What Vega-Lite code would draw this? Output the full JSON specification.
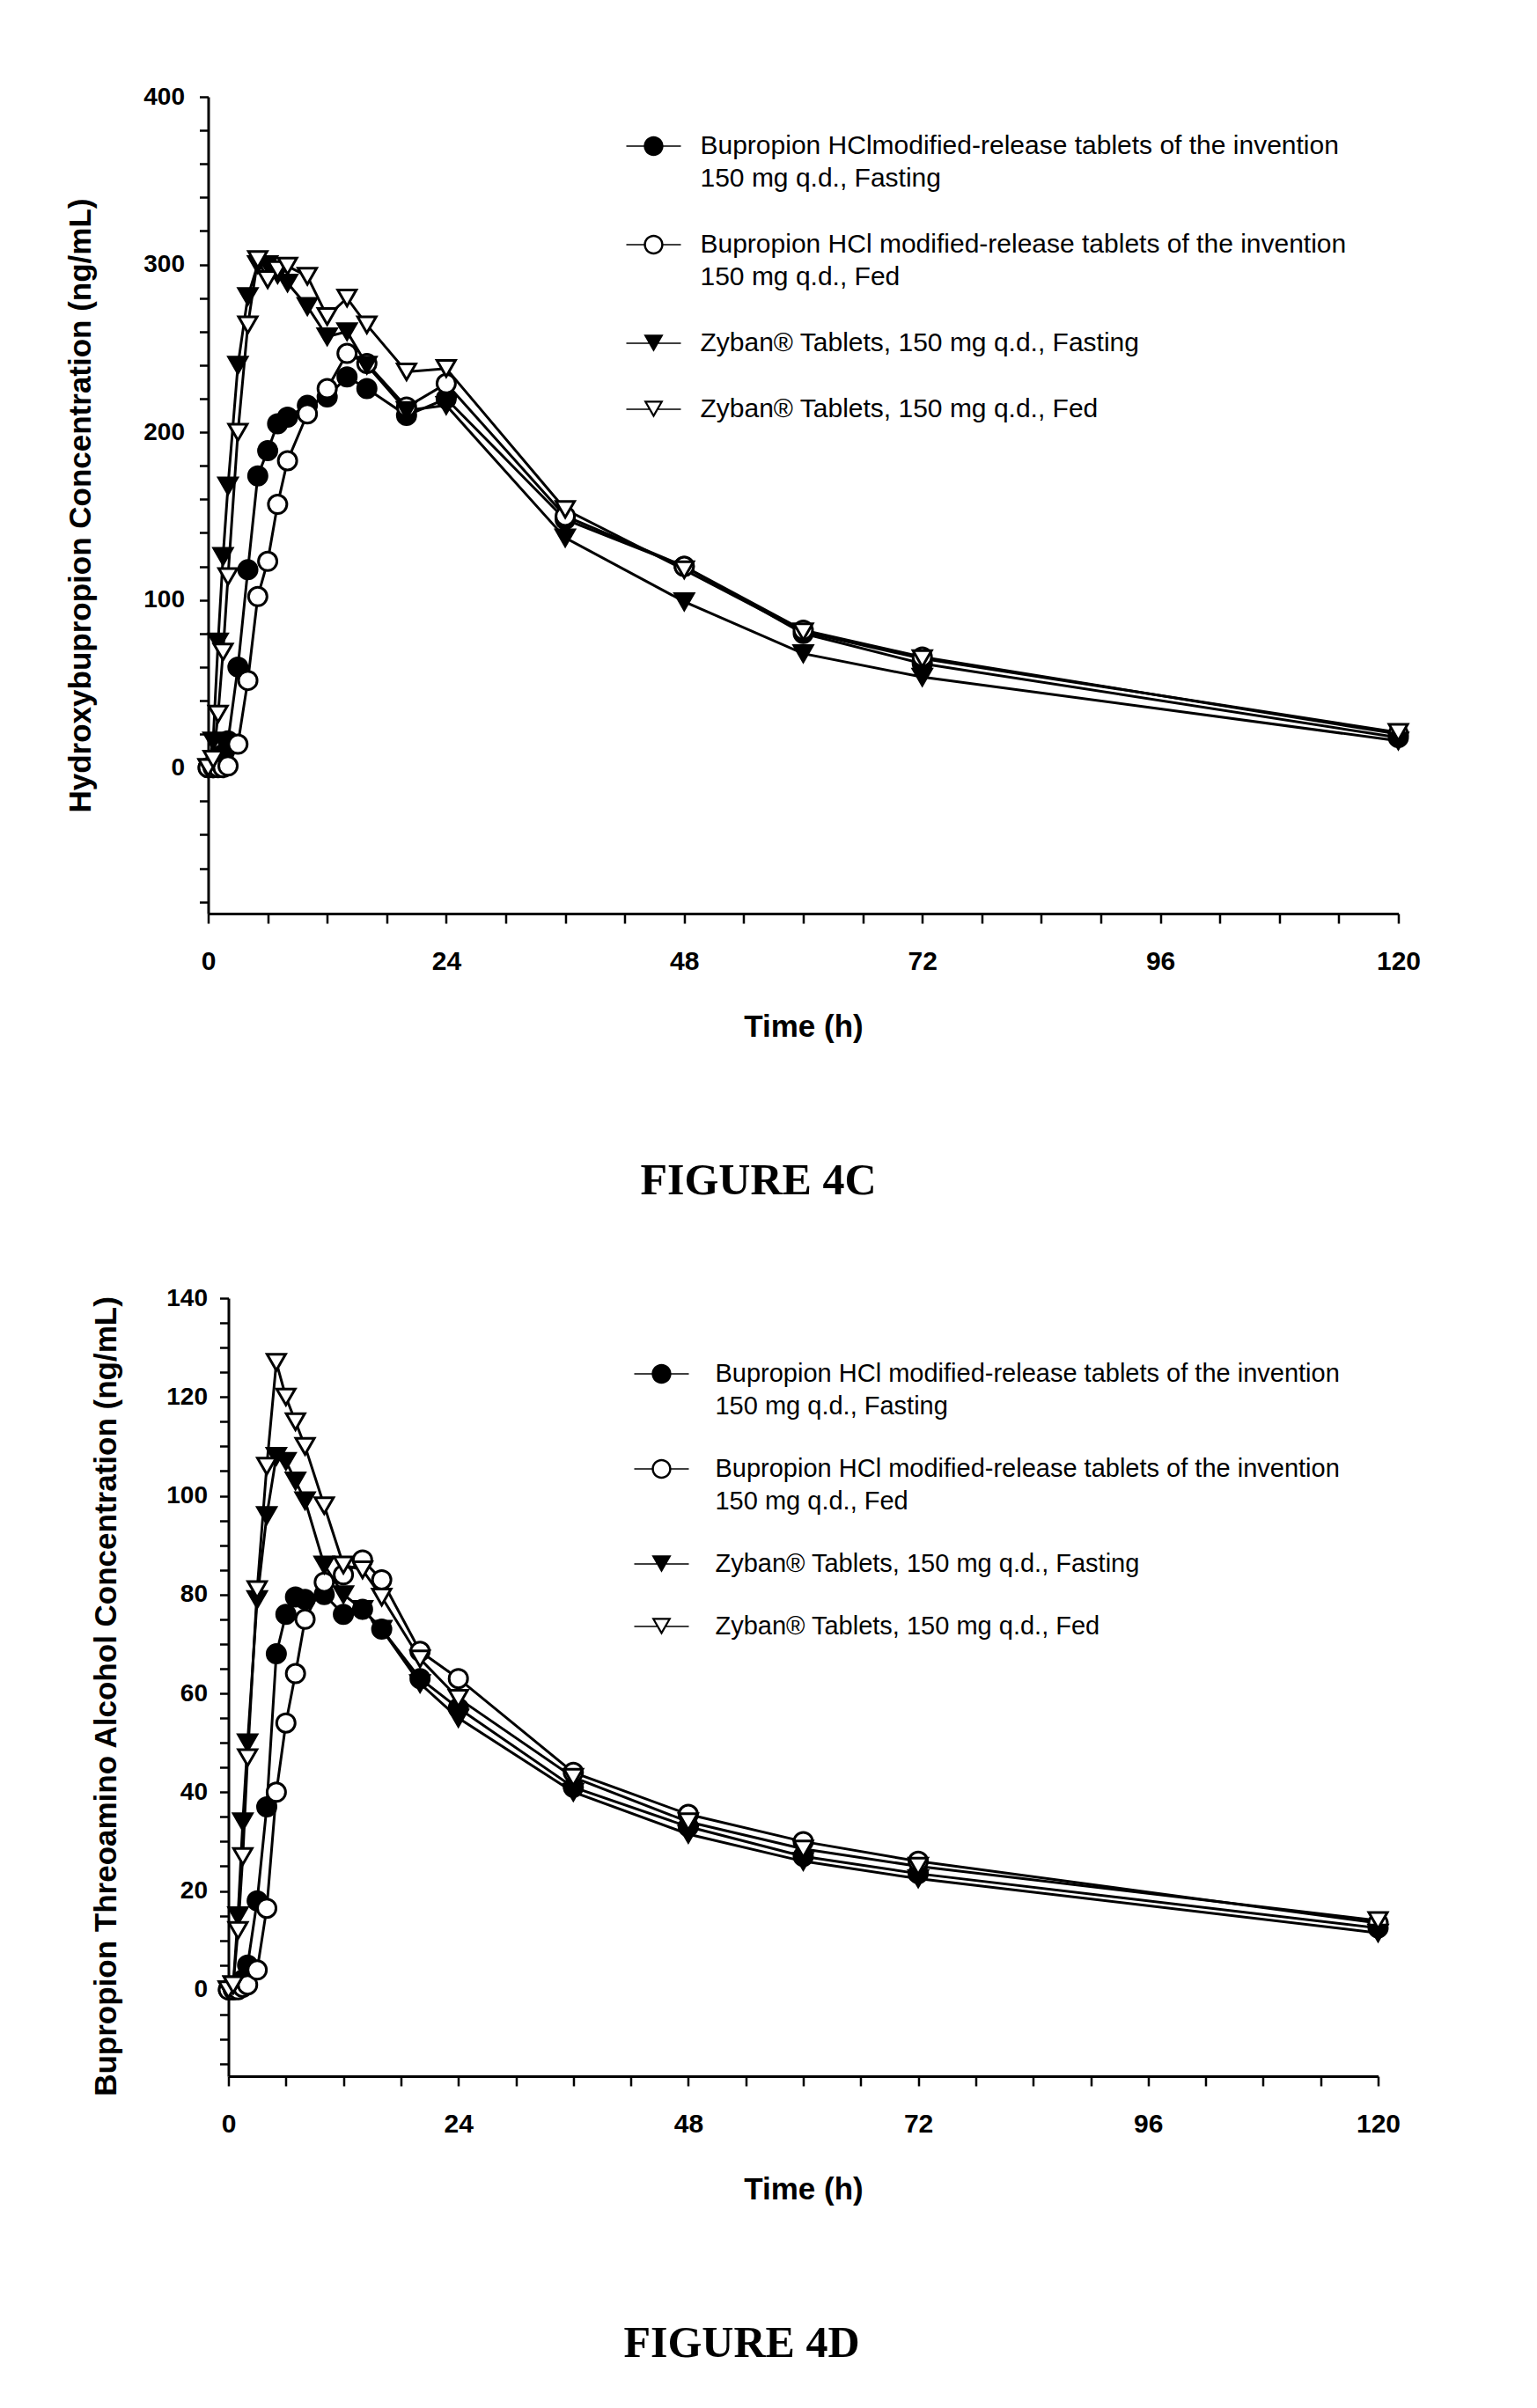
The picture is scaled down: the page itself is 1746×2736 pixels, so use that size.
{
  "$schema": "https://vega.github.io/schema/vega-lite/v6.json",
  "background": "white",
  "padding": {"left": 74, "top": 96, "right": 10, "bottom": 10},
  "spacing": 94,
  "center": true,
  "config": {
    "view": {"stroke": null},
    "font": "Liberation Sans",
    "axis": {"grid": false, "domainColor": "black", "domainWidth": 3, "tickColor": "black", "tickWidth": 2.5, "labelColor": "black", "titleColor": "black", "labelFont": "Liberation Sans", "titleFont": "Liberation Sans", "labelFontWeight": "bold", "titleFontWeight": "bold", "labelFlush": false, "labelOverlap": false},
    "style": {"guide-label": {"lineHeight": 37}}
  },
  "datasets": {
    "hydroxy": [
      {"time":0,"series":"Invention, Fasting","conc":0},{"time":0.5,"series":"Invention, Fasting","conc":0},{"time":1,"series":"Invention, Fasting","conc":3},{"time":1.5,"series":"Invention, Fasting","conc":8},{"time":2,"series":"Invention, Fasting","conc":16},{"time":3,"series":"Invention, Fasting","conc":60},{"time":4,"series":"Invention, Fasting","conc":118},{"time":5,"series":"Invention, Fasting","conc":174},{"time":6,"series":"Invention, Fasting","conc":189},{"time":7,"series":"Invention, Fasting","conc":205},{"time":8,"series":"Invention, Fasting","conc":209},{"time":10,"series":"Invention, Fasting","conc":216},{"time":12,"series":"Invention, Fasting","conc":221},{"time":14,"series":"Invention, Fasting","conc":233},{"time":16,"series":"Invention, Fasting","conc":226},{"time":20,"series":"Invention, Fasting","conc":210},{"time":24,"series":"Invention, Fasting","conc":220},{"time":36,"series":"Invention, Fasting","conc":148},{"time":48,"series":"Invention, Fasting","conc":120},{"time":60,"series":"Invention, Fasting","conc":80},{"time":72,"series":"Invention, Fasting","conc":62},{"time":120,"series":"Invention, Fasting","conc":18},
      {"time":0,"series":"Invention, Fed","conc":0},{"time":0.5,"series":"Invention, Fed","conc":0},{"time":1,"series":"Invention, Fed","conc":0},{"time":1.5,"series":"Invention, Fed","conc":0},{"time":2,"series":"Invention, Fed","conc":1},{"time":3,"series":"Invention, Fed","conc":14},{"time":4,"series":"Invention, Fed","conc":52},{"time":5,"series":"Invention, Fed","conc":102},{"time":6,"series":"Invention, Fed","conc":123},{"time":7,"series":"Invention, Fed","conc":157},{"time":8,"series":"Invention, Fed","conc":183},{"time":10,"series":"Invention, Fed","conc":211},{"time":12,"series":"Invention, Fed","conc":226},{"time":14,"series":"Invention, Fed","conc":247},{"time":16,"series":"Invention, Fed","conc":241},{"time":20,"series":"Invention, Fed","conc":215},{"time":24,"series":"Invention, Fed","conc":229},{"time":36,"series":"Invention, Fed","conc":150},{"time":48,"series":"Invention, Fed","conc":120},{"time":60,"series":"Invention, Fed","conc":82},{"time":72,"series":"Invention, Fed","conc":66},{"time":120,"series":"Invention, Fed","conc":20},
      {"time":0,"series":"Zyban, Fasting","conc":0},{"time":0.5,"series":"Zyban, Fasting","conc":16},{"time":1,"series":"Zyban, Fasting","conc":75},{"time":1.5,"series":"Zyban, Fasting","conc":126},{"time":2,"series":"Zyban, Fasting","conc":168},{"time":3,"series":"Zyban, Fasting","conc":240},{"time":4,"series":"Zyban, Fasting","conc":281},{"time":5,"series":"Zyban, Fasting","conc":300},{"time":6,"series":"Zyban, Fasting","conc":300},{"time":7,"series":"Zyban, Fasting","conc":294},{"time":8,"series":"Zyban, Fasting","conc":289},{"time":10,"series":"Zyban, Fasting","conc":275},{"time":12,"series":"Zyban, Fasting","conc":257},{"time":14,"series":"Zyban, Fasting","conc":260},{"time":16,"series":"Zyban, Fasting","conc":240},{"time":20,"series":"Zyban, Fasting","conc":213},{"time":24,"series":"Zyban, Fasting","conc":216},{"time":36,"series":"Zyban, Fasting","conc":137},{"time":48,"series":"Zyban, Fasting","conc":99},{"time":60,"series":"Zyban, Fasting","conc":68},{"time":72,"series":"Zyban, Fasting","conc":54},{"time":120,"series":"Zyban, Fasting","conc":16},
      {"time":0,"series":"Zyban, Fed","conc":0},{"time":0.5,"series":"Zyban, Fed","conc":5},{"time":1,"series":"Zyban, Fed","conc":32},{"time":1.5,"series":"Zyban, Fed","conc":69},{"time":2,"series":"Zyban, Fed","conc":114},{"time":3,"series":"Zyban, Fed","conc":200},{"time":4,"series":"Zyban, Fed","conc":264},{"time":5,"series":"Zyban, Fed","conc":303},{"time":6,"series":"Zyban, Fed","conc":291},{"time":7,"series":"Zyban, Fed","conc":297},{"time":8,"series":"Zyban, Fed","conc":299},{"time":10,"series":"Zyban, Fed","conc":293},{"time":12,"series":"Zyban, Fed","conc":269},{"time":14,"series":"Zyban, Fed","conc":280},{"time":16,"series":"Zyban, Fed","conc":264},{"time":20,"series":"Zyban, Fed","conc":236},{"time":24,"series":"Zyban, Fed","conc":238},{"time":36,"series":"Zyban, Fed","conc":154},{"time":48,"series":"Zyban, Fed","conc":118},{"time":60,"series":"Zyban, Fed","conc":81},{"time":72,"series":"Zyban, Fed","conc":65},{"time":120,"series":"Zyban, Fed","conc":21}
    ],
    "threo": [
      {"time":0,"series":"Invention, Fasting","conc":0},{"time":0.5,"series":"Invention, Fasting","conc":0},{"time":1,"series":"Invention, Fasting","conc":1},{"time":1.5,"series":"Invention, Fasting","conc":2},{"time":2,"series":"Invention, Fasting","conc":5},{"time":3,"series":"Invention, Fasting","conc":18},{"time":4,"series":"Invention, Fasting","conc":37},{"time":5,"series":"Invention, Fasting","conc":68},{"time":6,"series":"Invention, Fasting","conc":76},{"time":7,"series":"Invention, Fasting","conc":79.5},{"time":8,"series":"Invention, Fasting","conc":79},{"time":10,"series":"Invention, Fasting","conc":80},{"time":12,"series":"Invention, Fasting","conc":76},{"time":14,"series":"Invention, Fasting","conc":77},{"time":16,"series":"Invention, Fasting","conc":73},{"time":20,"series":"Invention, Fasting","conc":63},{"time":24,"series":"Invention, Fasting","conc":57},{"time":36,"series":"Invention, Fasting","conc":41},{"time":48,"series":"Invention, Fasting","conc":33},{"time":60,"series":"Invention, Fasting","conc":27},{"time":72,"series":"Invention, Fasting","conc":23.5},{"time":120,"series":"Invention, Fasting","conc":12.5},
      {"time":0,"series":"Invention, Fed","conc":0},{"time":0.5,"series":"Invention, Fed","conc":0},{"time":1,"series":"Invention, Fed","conc":0},{"time":1.5,"series":"Invention, Fed","conc":0.5},{"time":2,"series":"Invention, Fed","conc":1},{"time":3,"series":"Invention, Fed","conc":4},{"time":4,"series":"Invention, Fed","conc":16.5},{"time":5,"series":"Invention, Fed","conc":40},{"time":6,"series":"Invention, Fed","conc":54},{"time":7,"series":"Invention, Fed","conc":64},{"time":8,"series":"Invention, Fed","conc":75},{"time":10,"series":"Invention, Fed","conc":82.5},{"time":12,"series":"Invention, Fed","conc":84},{"time":14,"series":"Invention, Fed","conc":87},{"time":16,"series":"Invention, Fed","conc":83},{"time":20,"series":"Invention, Fed","conc":68.5},{"time":24,"series":"Invention, Fed","conc":63},{"time":36,"series":"Invention, Fed","conc":44},{"time":48,"series":"Invention, Fed","conc":35.5},{"time":60,"series":"Invention, Fed","conc":30},{"time":72,"series":"Invention, Fed","conc":26},{"time":120,"series":"Invention, Fed","conc":13.5},
      {"time":0,"series":"Zyban, Fasting","conc":0},{"time":0.5,"series":"Zyban, Fasting","conc":1},{"time":1,"series":"Zyban, Fasting","conc":15},{"time":1.5,"series":"Zyban, Fasting","conc":34},{"time":2,"series":"Zyban, Fasting","conc":50},{"time":3,"series":"Zyban, Fasting","conc":79},{"time":4,"series":"Zyban, Fasting","conc":96},{"time":5,"series":"Zyban, Fasting","conc":108},{"time":6,"series":"Zyban, Fasting","conc":107},{"time":7,"series":"Zyban, Fasting","conc":103},{"time":8,"series":"Zyban, Fasting","conc":99},{"time":10,"series":"Zyban, Fasting","conc":86},{"time":12,"series":"Zyban, Fasting","conc":80},{"time":14,"series":"Zyban, Fasting","conc":77},{"time":16,"series":"Zyban, Fasting","conc":73},{"time":20,"series":"Zyban, Fasting","conc":62},{"time":24,"series":"Zyban, Fasting","conc":55},{"time":36,"series":"Zyban, Fasting","conc":40},{"time":48,"series":"Zyban, Fasting","conc":31.5},{"time":60,"series":"Zyban, Fasting","conc":26},{"time":72,"series":"Zyban, Fasting","conc":22.5},{"time":120,"series":"Zyban, Fasting","conc":11.5},
      {"time":0,"series":"Zyban, Fed","conc":0},{"time":0.5,"series":"Zyban, Fed","conc":1},{"time":1,"series":"Zyban, Fed","conc":12},{"time":1.5,"series":"Zyban, Fed","conc":27},{"time":2,"series":"Zyban, Fed","conc":47},{"time":3,"series":"Zyban, Fed","conc":81},{"time":4,"series":"Zyban, Fed","conc":106},{"time":5,"series":"Zyban, Fed","conc":127},{"time":6,"series":"Zyban, Fed","conc":120},{"time":7,"series":"Zyban, Fed","conc":115},{"time":8,"series":"Zyban, Fed","conc":110},{"time":10,"series":"Zyban, Fed","conc":98},{"time":12,"series":"Zyban, Fed","conc":86},{"time":14,"series":"Zyban, Fed","conc":85},{"time":16,"series":"Zyban, Fed","conc":79.5},{"time":20,"series":"Zyban, Fed","conc":67},{"time":24,"series":"Zyban, Fed","conc":59},{"time":36,"series":"Zyban, Fed","conc":43},{"time":48,"series":"Zyban, Fed","conc":34},{"time":60,"series":"Zyban, Fed","conc":28.5},{"time":72,"series":"Zyban, Fed","conc":25},{"time":120,"series":"Zyban, Fed","conc":14}
    ]
  },
  "vconcat": [
    {
      "width": 1352,
      "height": 928,
      "data": {"name": "hydroxy"},
      "title": {"text": "FIGURE 4C", "orient": "bottom", "anchor": "middle", "frame": "group", "font": "Liberation Serif", "fontSize": 50, "fontWeight": "bold", "color": "black", "offset": 133, "dx": -51},
      "encoding": {
        "x": {"field": "time", "type": "quantitative", "scale": {"domain": [0, 120], "nice": false, "zero": false},
          "axis": {"title": "Time (h)", "values": [0,6,12,18,24,30,36,42,48,54,60,66,72,78,84,90,96,102,108,114,120], "labelExpr": "datum.value % 24 === 0 ? datum.label : ''", "tickSize": 11, "labelPadding": 28, "titlePadding": 42, "labelFontSize": 30, "titleFontSize": 35}},
        "y": {"field": "conc", "type": "quantitative", "scale": {"domain": [-87, 400], "nice": false, "zero": false},
          "axis": {"title": "Hydroxybupropion Concentration (ng/mL)", "values": [-80,-60,-40,-20,0,20,40,60,80,100,120,140,160,180,200,220,240,260,280,300,320,340,360,380,400], "labelExpr": "datum.value >= 0 && datum.value % 100 === 0 ? datum.label : ''", "tickSize": 10, "labelPadding": 17, "titlePadding": 53, "labelFontSize": 28, "titleFontSize": 35}}
      },
      "layer": [
        {"mark": {"type": "line", "color": "black", "strokeWidth": 3}, "encoding": {"detail": {"field": "series"}}},
        {"mark": {"type": "point", "filled": true, "stroke": "black", "strokeWidth": 3, "size": 441, "opacity": 1},
          "encoding": {
            "shape": {"field": "series", "type": "nominal", "scale": {"domain": ["Invention, Fasting", "Invention, Fed", "Zyban, Fasting", "Zyban, Fed"], "range": ["circle", "circle", "triangle-down", "triangle-down"]}, "legend": null},
            "fill": {"field": "series", "type": "nominal", "scale": {"domain": ["Invention, Fasting", "Invention, Fed", "Zyban, Fasting", "Zyban, Fed"], "range": ["black", "white", "black", "white"]}, "legend": null}
          }},
        {"transform": [{"filter": "datum.time < 0"}],
          "mark": {"type": "point", "filled": true, "color": "black", "opacity": 1},
          "encoding": {
            "shape": {"field": "series", "type": "nominal", "scale": {"domain": ["Invention, Fasting", "Invention, Fed", "Zyban, Fasting", "Zyban, Fed"], "range": [
                "M-1,-0.025H-0.3V0.025H-1ZM0.3,-0.025H1V0.025H0.3ZM0.36,0A0.36,0.36,0,1,1,-0.36,0A0.36,0.36,0,1,1,0.36,0Z",
                "M-1,-0.025H-0.33V0.025H-1ZM0.33,-0.025H1V0.025H0.33ZM0.36,0A0.36,0.36,0,1,1,-0.36,0A0.36,0.36,0,1,1,0.36,0ZM0.28,0A0.28,0.28,0,1,0,-0.28,0A0.28,0.28,0,1,0,0.28,0Z",
                "M-1,-0.025H1V0.025H-1ZM0,0.312L-0.36,-0.312L0.36,-0.312Z",
                "M-1,-0.025H-0.17V0.025H-1ZM0.17,-0.025H1V0.025H0.17ZM0,0.312L-0.36,-0.312L0.36,-0.312ZM0,0.172L0.239,-0.242L-0.239,-0.242Z"]},
              "legend": {"title": null, "orient": "none", "legendX": 475, "legendY": 25, "padding": 0, "symbolSize": 3844, "symbolStrokeWidth": 0, "labelFont": "Liberation Sans", "labelFontSize": 30, "labelColor": "black", "labelOffset": 22, "rowPadding": 29, "labelLimit": 1200,
                "labelExpr": "datum.label === 'Invention, Fasting' ? ['Bupropion HClmodified-release tablets of the invention', '150 mg q.d., Fasting'] : datum.label === 'Invention, Fed' ? ['Bupropion HCl modified-release tablets of the invention', '150 mg q.d., Fed'] : datum.label === 'Zyban, Fasting' ? 'Zyban® Tablets, 150 mg q.d., Fasting' : 'Zyban® Tablets, 150 mg q.d., Fed'"}}
          }}
      ],
      "resolve": {"scale": {"shape": "independent"}}
    },
    {
      "width": 1306,
      "height": 884,
      "data": {"name": "threo"},
      "title": {"text": "FIGURE 4D", "orient": "bottom", "anchor": "middle", "frame": "group", "font": "Liberation Serif", "fontSize": 50, "fontWeight": "bold", "color": "black", "offset": 133, "dx": -70},
      "encoding": {
        "x": {"field": "time", "type": "quantitative", "scale": {"domain": [0, 120], "nice": false, "zero": false},
          "axis": {"title": "Time (h)", "values": [0,6,12,18,24,30,36,42,48,54,60,66,72,78,84,90,96,102,108,114,120], "labelExpr": "datum.value % 24 === 0 ? datum.label : ''", "tickSize": 11, "labelPadding": 28, "titlePadding": 42, "labelFontSize": 30, "titleFontSize": 35}},
        "y": {"field": "conc", "type": "quantitative", "scale": {"domain": [-17.5, 140], "nice": false, "zero": false},
          "axis": {"title": "Bupropion Threoamino Alcohol Concentration (ng/mL)", "values": [-15,-10,-5,0,5,10,15,20,25,30,35,40,45,50,55,60,65,70,75,80,85,90,95,100,105,110,115,120,125,130,135,140], "labelExpr": "datum.value >= 0 && datum.value % 20 === 0 ? datum.label : ''", "tickSize": 10, "labelPadding": 14, "titlePadding": 50, "titleY": 452, "labelFontSize": 28, "titleFontSize": 35}}
      },
      "layer": [
        {"mark": {"type": "line", "color": "black", "strokeWidth": 3}, "encoding": {"detail": {"field": "series"}}},
        {"mark": {"type": "point", "filled": true, "stroke": "black", "strokeWidth": 3, "size": 441, "opacity": 1},
          "encoding": {
            "shape": {"field": "series", "type": "nominal", "scale": {"domain": ["Invention, Fasting", "Invention, Fed", "Zyban, Fasting", "Zyban, Fed"], "range": ["circle", "circle", "triangle-down", "triangle-down"]}, "legend": null},
            "fill": {"field": "series", "type": "nominal", "scale": {"domain": ["Invention, Fasting", "Invention, Fed", "Zyban, Fasting", "Zyban, Fed"], "range": ["black", "white", "black", "white"]}, "legend": null}
          }},
        {"transform": [{"filter": "datum.time < 0"}],
          "mark": {"type": "point", "filled": true, "color": "black", "opacity": 1},
          "encoding": {
            "shape": {"field": "series", "type": "nominal", "scale": {"domain": ["Invention, Fasting", "Invention, Fed", "Zyban, Fasting", "Zyban, Fed"], "range": [
                "M-1,-0.025H-0.3V0.025H-1ZM0.3,-0.025H1V0.025H0.3ZM0.36,0A0.36,0.36,0,1,1,-0.36,0A0.36,0.36,0,1,1,0.36,0Z",
                "M-1,-0.025H-0.33V0.025H-1ZM0.33,-0.025H1V0.025H0.33ZM0.36,0A0.36,0.36,0,1,1,-0.36,0A0.36,0.36,0,1,1,0.36,0ZM0.28,0A0.28,0.28,0,1,0,-0.28,0A0.28,0.28,0,1,0,0.28,0Z",
                "M-1,-0.025H1V0.025H-1ZM0,0.312L-0.36,-0.312L0.36,-0.312Z",
                "M-1,-0.025H-0.17V0.025H-1ZM0.17,-0.025H1V0.025H0.17ZM0,0.312L-0.36,-0.312L0.36,-0.312ZM0,0.172L0.239,-0.242L-0.239,-0.242Z"]},
              "legend": {"title": null, "orient": "none", "legendX": 461, "legendY": 55, "padding": 0, "symbolSize": 3844, "symbolStrokeWidth": 0, "labelFont": "Liberation Sans", "labelFontSize": 29, "labelColor": "black", "labelOffset": 30, "rowPadding": 25, "labelLimit": 1200,
                "labelExpr": "datum.label === 'Invention, Fasting' ? ['Bupropion HCl modified-release tablets of the invention', '150 mg q.d., Fasting'] : datum.label === 'Invention, Fed' ? ['Bupropion HCl modified-release tablets of the invention', '150 mg q.d., Fed'] : datum.label === 'Zyban, Fasting' ? 'Zyban® Tablets, 150 mg q.d., Fasting' : 'Zyban® Tablets, 150 mg q.d., Fed'"}}
          }}
      ],
      "resolve": {"scale": {"shape": "independent"}}
    }
  ]
}
